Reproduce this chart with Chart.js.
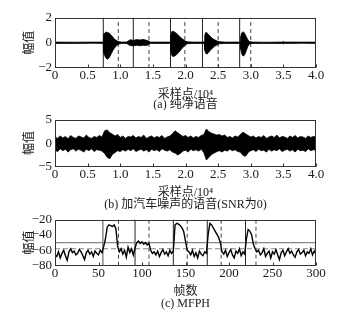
<!DOCTYPE html>
<html>
<head>
<meta charset="utf-8">
<script src="https://cdn.jsdelivr.net/npm/chart.js@4.4.0/dist/chart.umd.min.js"></script>
<style>
  body { margin: 0; background: #fff; }
  canvas { position: absolute; left: 0; }
</style>
</head>
<body>
<canvas id="chartA" width="353" height="110" style="top:0px"></canvas>
<canvas id="chartB" width="353" height="100" style="top:110px"></canvas>
<canvas id="chartC" width="353" height="109" style="top:210px"></canvas>
<script>
// (a) clean speech: amplitude envelope (upper / lower) at sample positions (x10^4)
var aX = [0, 0.3, 0.6, 0.74, 0.745, 0.76, 0.78, 0.8, 0.82, 0.84,
          0.86, 0.88, 0.9, 0.92, 0.95, 0.98, 1.02, 1.1, 1.14, 1.16,
          1.2, 1.25, 1.3, 1.35, 1.4, 1.43, 1.46, 1.6, 1.77, 1.775,
          1.79, 1.81, 1.83, 1.85, 1.87, 1.9, 1.93, 1.96, 1.99, 2.03,
          2.1, 2.29, 2.295, 2.31, 2.33, 2.35, 2.38, 2.41, 2.44, 2.48,
          2.52, 2.6, 2.84, 2.845, 2.86, 2.88, 2.9, 2.92, 2.94, 2.96,
          2.98, 3.02, 3.2, 3.48, 3.5, 3.52, 3.8, 4.0];
var aHi = [0.05, 0.04, 0.05, 0.05, 0.7, 0.75, 0.85, 0.82, 0.8, 0.72,
           0.6, 0.5, 0.35, 0.25, 0.15, 0.08, 0.05, 0.06, 0.2, 0.24,
           0.18, 0.25, 0.22, 0.26, 0.2, 0.15, 0.05, 0.05, 0.05, 0.6,
           0.88, 0.92, 0.85, 0.8, 0.7, 0.55, 0.4, 0.28, 0.15, 0.07,
           0.05, 0.05, 0.6, 0.82, 0.78, 0.68, 0.5, 0.35, 0.25, 0.15,
           0.08, 0.05, 0.05, 0.45, 0.75, 0.87, 0.8, 0.6, 0.4, 0.2,
           0.1, 0.05, 0.04, 0.05, 0.1, 0.05, 0.05, 0.05];
var aLo = [-0.05, -0.05, -0.04, -0.05, -0.8, -1.0, -1.2, -1.3, -1.25, -1.1,
           -0.9, -0.7, -0.5, -0.35, -0.2, -0.1, -0.05, -0.06, -0.2, -0.22,
           -0.25, -0.2, -0.24, -0.2, -0.22, -0.15, -0.05, -0.05, -0.05, -0.7,
           -1.0, -1.1, -1.05, -1.0, -0.9, -0.75, -0.55, -0.38, -0.2, -0.08,
           -0.05, -0.05, -0.6, -0.85, -0.9, -0.8, -0.6, -0.45, -0.3, -0.18,
           -0.08, -0.05, -0.05, -0.5, -0.85, -1.05, -1.0, -0.8, -0.5, -0.25,
           -0.1, -0.05, -0.05, -0.05, -0.08, -0.05, -0.04, -0.05];
var aSolid = [0.74, 1.2, 1.77, 2.26, 2.83];
var aDash = [0.97, 1.44, 1.99, 2.5, 3.0];

// (b) noisy speech (SNR 0): envelope every 0.04 x10^4 samples
var bStep = 0.04;
var bHi = [1.3, 1.0, 1.5, 1.1, 1.4, 0.9, 1.6, 1.2, 1.0, 1.5,
           1.3, 1.1, 1.7, 1.2, 1.0, 1.4, 1.2, 1.6, 1.3, 2.6,
           2.8, 2.2, 1.9, 1.5, 1.8, 1.2, 1.5, 1.0, 1.4, 1.3,
           1.6, 1.1, 1.4, 1.2, 1.7, 1.0, 1.3, 1.5, 1.1, 1.4,
           1.2, 1.6, 1.0, 1.3, 1.5, 2.0, 2.6, 2.2, 1.8, 1.4,
           1.6, 1.2, 1.5, 1.1, 1.4, 1.2, 1.6, 1.8, 3.0, 2.4,
           2.1, 1.9, 1.7, 1.8, 1.5, 1.7, 1.2, 1.4, 1.1, 1.5,
           1.3, 1.8, 2.3, 2.0, 1.6, 1.3, 1.5, 1.1, 1.4, 1.2,
           1.6, 1.0, 1.3, 1.5, 1.2, 1.7, 1.1, 1.4, 1.3, 1.0,
           1.5, 1.2, 1.6, 1.1, 1.4, 1.3, 1.0, 1.5, 1.2, 1.4,
           1.3];
var bLo = [-1.5, -1.8, -1.2, -1.6, -1.3, -1.9, -1.4, -1.2, -1.7, -1.3,
           -1.5, -1.9, -1.3, -1.6, -1.2, -1.8, -1.4, -1.5, -1.7, -2.2,
           -3.0, -3.3, -2.4, -2.0, -1.6, -1.8, -1.4, -1.7, -1.3, -1.6,
           -1.2, -1.8, -1.5, -1.3, -1.7, -1.4, -1.9, -1.3, -1.6, -1.4,
           -1.8, -1.2, -1.5, -1.7, -1.4, -1.9, -2.1, -2.5, -2.2, -1.7,
           -1.5, -1.9, -1.3, -1.6, -1.4, -1.7, -1.3, -2.0, -3.6, -3.0,
           -2.4, -2.1, -1.8, -1.6, -1.9, -1.5, -1.7, -1.3, -1.6, -1.4,
           -1.8, -1.9, -2.6, -2.8, -2.0, -1.6, -1.4, -1.8, -1.3, -1.6,
           -1.5, -1.9, -1.3, -1.7, -1.4, -1.6, -1.2, -1.8, -1.5, -1.3,
           -1.7, -1.4, -1.9, -1.3, -1.6, -1.5, -1.8, -1.2, -1.6, -1.4,
           -1.5];

// (c) MFPH per frame, every 2 frames
var cStep = 2;
var cVals = [-66, -68, -62, -70, -64, -60, -67, -73, -62, -58,
             -63, -61, -66, -64, -59, -62, -67, -72, -63, -60,
             -65, -62, -68, -61, -64, -66, -60, -63, -55, -45,
             -30, -27, -28, -29, -27, -32, -55, -62, -58, -65,
             -60, -69, -56, -63, -58, -66, -57, -50, -48, -51,
             -49, -52, -50, -53, -51, -60, -64, -62, -66, -61,
             -68, -63, -59, -65, -62, -67, -60, -64, -61, -27,
             -25, -26, -28, -31, -36, -48, -60, -62, -66, -60,
             -68, -63, -70, -61, -65, -67, -62, -64, -40, -25,
             -27, -31, -35, -39, -43, -50, -62, -65, -60, -68,
             -63, -59, -66, -70, -61, -64, -58, -67, -62, -65,
             -45, -33, -35, -40, -52, -58, -62, -60, -66, -63,
             -58, -68, -64, -61, -70, -62, -65, -59, -66, -72,
             -63, -60, -67, -62, -58, -64, -61, -66, -69, -62,
             -59, -65, -63, -60, -67, -62, -64, -58, -66, -61,
             -65];
var cSolid = [55, 92, 136, 175, 219];
var cDash = [73, 108, 152, 191, 231];
var cLevelSolid = -50;
var cLevelDash = -58;

// tick labels
var abXTicks = [0, 0.5, 1.0, 1.5, 2.0, 2.5, 3.0, 3.5, 4.0];
var cXTicks = [0, 50, 100, 150, 200, 250, 300];
var aYTicks = [-2, 0, 2];
var bYTicks = [-5, 0, 5];
var cYTicks = [-80, -60, -40, -20];

var FONT = "'Liberation Serif', 'Noto Sans CJK SC', serif";
var INK = '#1a1a1a';

function pts(xs, ys) {
  return ys.map(function (y, i) { return { x: xs[i], y: y }; });
}
function stepPts(step, ys) {
  return ys.map(function (y, i) { return { x: i * step, y: y }; });
}
function vline(x, y0, y1, color, dash, w) {
  return { data: [{ x: x, y: y0 }, { x: x, y: y1 }], borderColor: color, borderWidth: w,
           borderDash: dash, pointRadius: 0, fill: false };
}
function hline(y, x0, x1, color, dash, w) {
  return { data: [{ x: x0, y: y }, { x: x1, y: y }], borderColor: color, borderWidth: w,
           borderDash: dash, pointRadius: 0, fill: false };
}
function minus(v) { return String(v).replace('-', '\u2212'); }

var framePlugin = {
  id: 'frame',
  afterDatasetsDraw: function (chart) {
    var ctx = chart.ctx, a = chart.chartArea, xs = chart.scales.x;
    var l = Math.round(a.left) + 0.5, t = Math.round(a.top) + 0.5;
    var r = Math.round(a.right) - 0.5, b = Math.round(a.bottom) - 0.5;
    ctx.save();
    ctx.strokeStyle = '#333';
    ctx.lineWidth = 1;
    ctx.strokeRect(l, t, r - l, b - t);
    ctx.beginPath();
    xs.ticks.forEach(function (tk) {
      var px = Math.round(xs.getPixelForValue(tk.value)) + 0.5;
      ctx.moveTo(px, b); ctx.lineTo(px, b - 3);
    });
    ctx.stroke();
    ctx.restore();
  }
};

function makeChart(id, datasets, p) {
  return new Chart(document.getElementById(id), {
    type: 'line',
    data: { datasets: datasets },
    plugins: [framePlugin],
    options: {
      responsive: false,
      animation: false,
      events: [],
      layout: { padding: { left: 0, right: 37, top: p.top, bottom: p.bottom } },
      elements: { line: { tension: 0 } },
      plugins: {
        legend: { display: false },
        tooltip: { enabled: false },
        title: {
          display: true, text: p.caption, position: 'bottom', color: INK, fullSize: false,
          font: { family: FONT, size: 12, lineHeight: 0.9, weight: 'normal' },
          padding: { top: 0, bottom: 0 }
        }
      },
      scales: {
        x: {
          type: 'linear', min: p.xMin, max: p.xMax,
          grid: { display: false, drawTicks: false },
          border: { display: false },
          afterBuildTicks: function (s) { s.ticks = p.xTicks.map(function (v) { return { value: v }; }); },
          afterFit: function (s) { s.height = p.xHeight; },
          ticks: {
            autoSkip: false, maxRotation: 0, padding: 0, color: INK,
            font: { family: FONT, size: 13 },
            callback: p.xFmt
          },
          title: {
            display: true, text: p.xTitle, color: INK,
            font: { family: FONT, size: 12, lineHeight: 1 },
            padding: { top: 0, bottom: p.xTitlePad }
          }
        },
        y: {
          type: 'linear', min: p.yMin, max: p.yMax,
          grid: { display: false, drawTicks: false },
          border: { display: false },
          afterBuildTicks: function (s) { s.ticks = p.yTicks.map(function (v) { return { value: v }; }); },
          afterFit: function (s) { s.width = 55; },
          ticks: {
            autoSkip: false, padding: 3, color: INK,
            font: { family: FONT, size: 13, lineHeight: 1 },
            callback: function (v) { return minus(v); }
          },
          title: {
            display: true, text: '幅值', color: INK,
            font: { family: FONT, size: 12, lineHeight: 1.2 },
            padding: { top: 23, bottom: 0 }
          }
        }
      }
    }
  });
}

function fmt1(v) { return v === 0 ? '0' : v.toFixed(1); }

// (a)
var dsA = [
  { data: pts(aX, aHi), borderColor: '#000', borderWidth: 0.8, pointRadius: 0, fill: false },
  { data: pts(aX, aLo), borderColor: '#000', borderWidth: 0.8, pointRadius: 0, fill: '-1', backgroundColor: '#000' }
];
aSolid.forEach(function (x) { dsA.push(vline(x, -2, 2, '#222', [], 1)); });
aDash.forEach(function (x) { dsA.push(vline(x, -2, 2, '#444', [4, 3], 1)); });
makeChart('chartA', dsA, {
  top: 17.5, bottom: 0, xHeight: 31.2, xTitlePad: -1.2,
  xMin: 0, xMax: 4, xTicks: abXTicks, xFmt: fmt1,
  yMin: -2, yMax: 2, yTicks: aYTicks,
  xTitle: '采样点/10⁴', caption: '(a) 纯净语音'
});

// (b)
var dsB = [
  { data: stepPts(bStep, bHi), borderColor: '#000', borderWidth: 0.8, pointRadius: 0, fill: false },
  { data: stepPts(bStep, bLo), borderColor: '#000', borderWidth: 0.8, pointRadius: 0, fill: '-1', backgroundColor: '#000' }
];
makeChart('chartB', dsB, {
  top: 8.3, bottom: 0, xHeight: 32.5, xTitlePad: 0.1,
  xMin: 0, xMax: 4, xTicks: abXTicks, xFmt: fmt1,
  yMin: -5, yMax: 5, yTicks: bYTicks,
  xTitle: '采样点/10⁴', caption: '(b) 加汽车噪声的语音(SNR为0)'
});

// (c)
var dsC = [
  { data: stepPts(cStep, cVals), borderColor: '#000', borderWidth: 1.4, pointRadius: 0, fill: false }
];
dsC.push(hline(cLevelSolid, 0, 300, '#888', [], 1.2));
dsC.push(hline(cLevelDash, 0, 300, '#888', [5, 3], 1.2));
cSolid.forEach(function (x, i) { dsC.push(vline(x, -80, -20, i === 0 ? '#888' : '#222', [], i === 0 ? 1.5 : 1)); });
cDash.forEach(function (x) { dsC.push(vline(x, -80, -20, '#444', [4, 3], 1)); });
makeChart('chartC', dsC, {
  top: 7.3, bottom: 9.5, xHeight: 33.0, xTitlePad: 0.8,
  xMin: 0, xMax: 300, xTicks: cXTicks, xFmt: function (v) { return String(v); },
  yMin: -80, yMax: -20, yTicks: cYTicks,
  xTitle: '帧数', caption: '(c) MFPH'
});
</script>
</body>
</html>
